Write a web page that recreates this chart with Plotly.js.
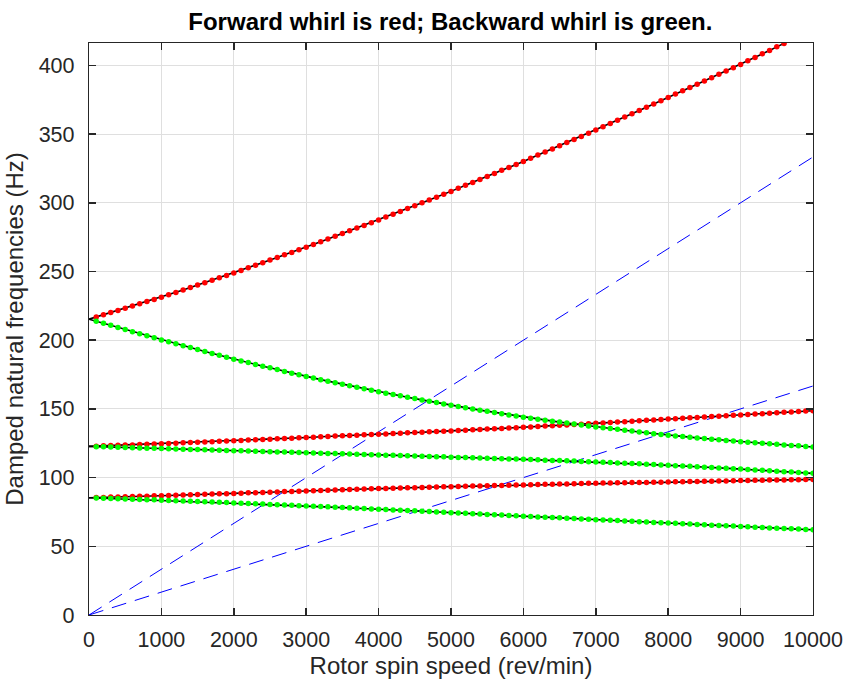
<!DOCTYPE html>
<html>
<head>
<meta charset="utf-8">
<script src="https://cdn.plot.ly/plotly-3.0.1.min.js"></script>
<style>html,body{margin:0;padding:0;background:#fff;}#chart{width:845px;height:686px;}</style>
</head>
<body>
<div id="chart"></div>
<script>
// Rotor spin speed (rev/min)
const rpm = [0,100,200,300,400,500,600,700,800,900,1000,1100,1200,1300,1400,1500,1600,1700,1800,1900,2000,2100,2200,2300,2400,2500,2600,2700,2800,2900,3000,3100,3200,3300,3400,3500,3600,3700,3800,3900,4000,4100,4200,4300,4400,4500,4600,4700,4800,4900,5000,5100,5200,5300,5400,5500,5600,5700,5800,5900,6000,6100,6200,6300,6400,6500,6600,6700,6800,6900,7000,7100,7200,7300,7400,7500,7600,7700,7800,7900,8000,8100,8200,8300,8400,8500,8600,8700,8800,8900,9000,9100,9200,9300,9400,9500,9600,9700,9800,9900,10000];

// Damped natural frequencies (Hz)
const mode1Forward = [85.3,85.5,85.6,85.8,85.9,86.1,86.2,86.4,86.5,86.7,86.8,87.0,87.1,87.3,87.5,87.7,87.8,88.0,88.2,88.3,88.5,88.7,88.9,89.0,89.2,89.4,89.6,89.8,89.9,90.1,90.3,90.5,90.6,90.8,91.0,91.2,91.3,91.5,91.7,91.8,92.0,92.1,92.3,92.4,92.6,92.7,92.8,93.0,93.1,93.3,93.4,93.5,93.7,93.8,93.9,94.1,94.2,94.3,94.4,94.6,94.7,94.8,94.9,95.1,95.2,95.3,95.4,95.5,95.7,95.8,95.9,96.0,96.1,96.2,96.3,96.4,96.4,96.5,96.6,96.7,96.8,96.9,97.0,97.1,97.2,97.3,97.4,97.5,97.6,97.7,97.8,97.9,98.0,98.1,98.2,98.3,98.3,98.4,98.5,98.6,98.7];
const mode1Backward = [85.3,85.1,85.0,84.8,84.6,84.5,84.3,84.1,83.9,83.8,83.6,83.4,83.2,83.0,82.8,82.6,82.4,82.2,82.0,81.8,81.6,81.4,81.2,80.9,80.7,80.5,80.3,80.1,79.8,79.6,79.4,79.2,78.9,78.7,78.4,78.2,78.0,77.7,77.5,77.2,77.0,76.8,76.5,76.3,76.0,75.8,75.5,75.3,75.0,74.8,74.5,74.2,74.0,73.7,73.5,73.2,72.9,72.7,72.4,72.2,71.9,71.7,71.4,71.2,70.9,70.7,70.4,70.2,69.9,69.7,69.4,69.2,68.9,68.7,68.4,68.2,67.9,67.7,67.4,67.2,66.9,66.7,66.4,66.2,65.9,65.7,65.4,65.2,64.9,64.7,64.4,64.2,63.9,63.7,63.4,63.2,63.0,62.7,62.5,62.2,62.0];
const mode2Forward = [122.7,122.9,123.1,123.3,123.5,123.7,123.8,124.0,124.2,124.4,124.6,124.8,125.0,125.3,125.5,125.7,125.9,126.1,126.4,126.6,126.8,127.0,127.3,127.5,127.8,128.0,128.2,128.5,128.7,129.0,129.2,129.4,129.7,129.9,130.2,130.4,130.6,130.9,131.1,131.4,131.6,131.8,132.1,132.3,132.6,132.8,133.0,133.3,133.5,133.8,134.0,134.3,134.5,134.8,135.0,135.3,135.6,135.8,136.1,136.3,136.6,136.9,137.2,137.5,137.8,138.1,138.3,138.6,138.9,139.2,139.5,139.8,140.1,140.4,140.7,141.1,141.4,141.7,142.0,142.3,142.6,142.9,143.2,143.5,143.8,144.1,144.4,144.7,145.0,145.3,145.6,145.9,146.2,146.5,146.8,147.2,147.5,147.8,148.1,148.4,148.7];
const mode2Backward = [122.7,122.5,122.4,122.2,122.1,121.9,121.7,121.6,121.4,121.3,121.1,121.0,120.8,120.7,120.5,120.4,120.2,120.1,119.9,119.8,119.6,119.5,119.3,119.2,119.0,118.9,118.7,118.6,118.4,118.3,118.1,117.9,117.8,117.6,117.5,117.3,117.1,117.0,116.8,116.7,116.5,116.3,116.2,116.0,115.9,115.7,115.5,115.4,115.2,115.1,114.9,114.7,114.6,114.4,114.3,114.1,113.9,113.8,113.6,113.5,113.3,113.1,112.9,112.7,112.5,112.4,112.2,112.0,111.8,111.6,111.4,111.2,110.9,110.7,110.4,110.2,110.0,109.7,109.5,109.2,109.0,108.7,108.4,108.2,107.9,107.6,107.3,107.0,106.8,106.5,106.2,105.9,105.6,105.3,105.0,104.7,104.3,104.0,103.7,103.4,103.1];
const mode3Forward = [215.3,216.9,218.5,220.1,221.7,223.3,224.9,226.5,228.1,229.7,231.3,233.1,234.8,236.6,238.3,240.1,241.9,243.6,245.4,247.1,248.9,250.8,252.7,254.5,256.4,258.3,260.2,262.1,263.9,265.8,267.7,269.7,271.6,273.6,275.6,277.6,279.6,281.6,283.5,285.5,287.5,289.6,291.7,293.7,295.8,297.9,300.0,302.1,304.1,306.2,308.3,310.5,312.7,314.8,317.0,319.2,321.4,323.6,325.7,327.9,330.1,332.4,334.7,336.9,339.2,341.5,343.8,346.1,348.3,350.6,352.9,355.3,357.7,360.0,362.4,364.8,367.2,369.6,371.9,374.3,376.7,379.1,381.5,383.9,386.3,388.7,391.1,393.5,395.9,398.3,400.7,403.3,405.8,408.4,410.9,413.5,416.0,418.6,421.1,423.7,426.2];
const mode3Backward = [215.3,213.8,212.3,210.8,209.3,207.8,206.2,204.7,203.2,201.7,200.2,198.8,197.4,196.0,194.6,193.2,191.8,190.4,189.0,187.6,186.2,184.9,183.7,182.4,181.1,179.9,178.6,177.3,176.0,174.8,173.5,172.4,171.3,170.2,169.1,167.9,166.8,165.7,164.6,163.5,162.4,161.4,160.4,159.5,158.5,157.5,156.5,155.5,154.6,153.6,152.6,151.7,150.9,150.0,149.1,148.3,147.4,146.5,145.6,144.8,143.9,143.2,142.5,141.8,141.1,140.4,139.7,139.0,138.3,137.6,136.9,136.3,135.7,135.1,134.5,133.9,133.2,132.6,132.0,131.4,130.8,130.3,129.9,129.4,128.9,128.5,128.0,127.5,127.0,126.6,126.1,125.7,125.3,125.0,124.6,124.2,123.8,123.4,123.1,122.7,122.3];

// Excitation lines (1x and 2x running speed)
const excitationRpm = [0, 10000];
const excitation1x = [0, 166.67];
const excitation2x = [0, 333.33];

// Tick labels
const xTickVals = [0,1000,2000,3000,4000,5000,6000,7000,8000,9000,10000];
const xTickText = ['0','1000','2000','3000','4000','5000','6000','7000','8000','9000','10000'];
const yTickVals = [0,50,100,150,200,250,300,350,400];
const yTickText = ['0','50','100','150','200','250','300','350','400'];

const forwardModes = [mode1Forward, mode2Forward, mode3Forward];
const backwardModes = [mode1Backward, mode2Backward, mode3Backward];

const FONT = 'Arial, "Liberation Sans", Helvetica, sans-serif';
const traces = [];

// blue dashed excitation lines
[excitation2x, excitation1x].forEach(function (ys) {
  traces.push({x: excitationRpm, y: ys, type: 'scatter', mode: 'lines',
    line: {color: '#0000ff', width: 1, dash: '15px,9px'}, hoverinfo: 'skip'});
});

// black mode lines
forwardModes.concat(backwardModes).forEach(function (ys) {
  traces.push({x: rpm, y: ys, type: 'scatter', mode: 'lines',
    line: {color: '#000000', width: 1.6}});
});

// whirl markers (no marker at zero speed)
forwardModes.forEach(function (ys) {
  traces.push({x: rpm.slice(1), y: ys.slice(1), type: 'scatter', mode: 'markers',
    marker: {color: '#ff0000', size: 5.5, line: {width: 0}}});
});
backwardModes.forEach(function (ys) {
  traces.push({x: rpm.slice(1), y: ys.slice(1), type: 'scatter', mode: 'markers',
    marker: {color: '#00ff00', size: 5.5, line: {width: 0}}});
});

const axisCommon = {
  showline: true, linecolor: '#262626', linewidth: 1.2, mirror: 'ticks',
  ticks: 'inside', ticklen: 7, tickwidth: 1.5, tickcolor: '#262626',
  showgrid: true, gridcolor: '#dfdfdf', gridwidth: 1, zeroline: false,
  tickfont: {family: FONT, size: 21.5, color: '#262626'},
  automargin: false
};

const layout = {
  width: 845, height: 686,
  paper_bgcolor: '#ffffff', plot_bgcolor: '#ffffff',
  showlegend: false,
  margin: {l: 89, r: 32, t: 43, b: 71},
  title: {text: '<b>Forward whirl is red; Backward whirl is green.</b>',
    font: {family: FONT, size: 24, color: '#000000'},
    x: 0.533, xanchor: 'center', y: 0.969, yanchor: 'middle'},
  xaxis: Object.assign({}, axisCommon, {
    range: [0, 10000], tickvals: xTickVals, ticktext: xTickText,
    ticklabelstandoff: 5,
    title: {text: 'Rotor spin speed (rev/min)', font: {family: FONT, size: 24, color: '#262626'}, standoff: 6}
  }),
  yaxis: Object.assign({}, axisCommon, {
    range: [0, 416.3], tickvals: yTickVals, ticktext: yTickText,
    ticklabelstandoff: 9,
    title: {text: 'Damped natural frequencies (Hz)', font: {family: FONT, size: 24, color: '#262626'}, standoff: 8}
  })
};

Plotly.newPlot('chart', traces, layout, {displayModeBar: false, staticPlot: true});
</script>
</body>
</html>
